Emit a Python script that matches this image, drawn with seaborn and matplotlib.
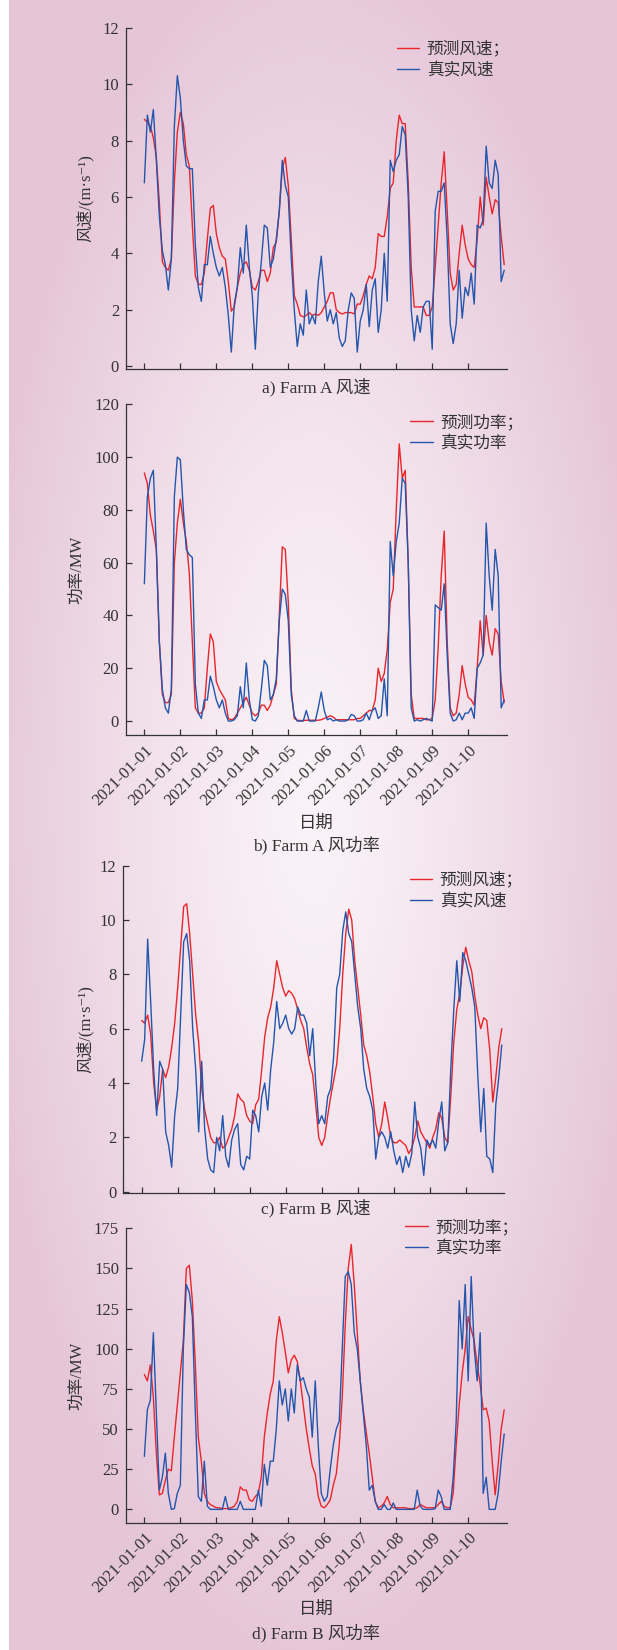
import numpy as np
import pandas as pd
import matplotlib
matplotlib.use("Agg")
import matplotlib.pyplot as plt
import matplotlib.dates as mdates
import seaborn as sns

# ---------------- data (2-hour samples, 2021-01-01 00:00 .. 2021-01-11 00:00) ----------------
start_date = "2021-01-01"
n_points = 121
tick_dates = ["2021-01-01", "2021-01-02", "2021-01-03", "2021-01-04", "2021-01-05",
              "2021-01-06", "2021-01-07", "2021-01-08", "2021-01-09", "2021-01-10"]

a_speed_pred = [
    8.75, 8.65, 8.5, 8.1, 7.4, 5.8, 3.7, 3.5, 3.4, 3.8, 6.5, 8.3,
    9.0, 8.6, 7.5, 7.1, 5.0, 3.2, 2.9, 2.9, 3.3, 4.5, 5.6, 5.7,
    4.7, 4.2, 3.9, 3.8, 3.0, 1.95, 2.1, 2.8, 3.3, 3.6, 3.7, 3.4,
    2.8, 2.7, 3.0, 3.4, 3.4, 3.0, 3.3, 4.2, 4.4, 5.5, 7.0, 7.4,
    6.4, 4.5, 2.5, 2.2, 1.8, 1.75, 1.8, 1.9, 1.8, 1.85, 1.8, 1.9,
    2.1, 2.3, 2.6, 2.6, 2.0, 1.9, 1.85, 1.9, 1.9, 1.9, 1.85, 2.2,
    2.2, 2.5, 2.9, 3.2, 3.1, 3.5, 4.7, 4.6, 4.6, 5.3, 6.3, 6.5,
    8.0, 8.9, 8.6, 8.6, 6.5, 3.5, 2.1, 2.1, 2.1, 2.1, 1.8, 1.8,
    2.1, 3.5, 5.0, 6.5, 7.6, 5.5, 3.3, 2.7, 2.9, 4.0, 5.0, 4.3,
    3.8, 3.6, 3.5, 4.5, 6.0, 5.0, 6.7, 6.0, 5.4, 5.9, 5.8, 4.6, 3.6]

a_speed_true = [
    6.5, 8.9, 8.3, 9.1, 7.3, 5.3, 4.1, 3.6, 2.7, 3.8, 8.5, 10.3,
    9.5, 8.0, 7.1, 7.0, 7.0, 4.3, 2.8, 2.3, 3.6, 3.6, 4.6, 4.0,
    3.5, 3.2, 3.5, 2.8, 1.8, 0.5, 2.2, 2.8, 4.2, 3.3, 5.0, 3.5,
    2.5, 0.6, 2.6, 3.7, 5.0, 4.9, 3.5, 3.8, 4.5, 5.5, 7.3, 6.4,
    6.0, 3.8, 2.0, 0.7, 1.5, 1.1, 2.7, 1.5, 1.8, 1.5, 3.0, 3.9,
    2.6, 1.6, 2.0, 1.5, 1.9, 1.0, 0.7, 0.9, 2.0, 2.6, 2.4, 0.5,
    1.6, 2.0, 2.9, 1.4, 2.7, 3.1, 1.2, 2.0, 4.0, 2.3, 7.3, 6.9,
    7.3, 7.5, 8.5, 8.2, 6.0, 2.0, 0.9, 1.8, 1.2, 2.1, 2.3, 2.3,
    0.6, 5.5, 6.2, 6.2, 6.5, 4.5, 1.5, 0.8, 1.5, 3.4, 1.7, 2.8,
    2.5, 3.3, 2.2, 5.0, 4.9, 5.2, 7.8, 6.5, 6.3, 7.3, 6.8, 3.0, 3.4]

a_power_pred = [
    94, 90, 78, 72, 65, 30, 10, 7, 7, 10, 60, 75,
    84, 75, 68, 56, 30, 5, 3, 3, 5, 20, 33, 30,
    15, 12, 10, 8, 1, 0.5, 1, 3, 5, 7, 9, 6,
    3, 2, 3, 6, 6, 4, 6, 10, 14, 40, 66, 65,
    45, 12, 1, 0.3, 0.2, 0.2, 0.3, 0.3, 0.3, 0.3, 0.3, 0.5,
    1, 1.5, 2, 1.5, 0.5, 0.5, 0.5, 0.5, 0.5, 0.5, 0.5, 1,
    1, 2, 3, 4, 4, 8, 20, 15, 18, 27, 45, 50,
    80, 105, 92, 95, 60, 10, 1, 1, 1, 1, 0.5, 0.5,
    1, 8, 28, 55, 72, 30, 5, 2, 3, 10, 21, 14,
    9, 8, 6, 20, 38, 25, 40, 30, 25, 35, 33, 15, 7]

a_power_true = [
    52, 85, 92, 95, 65, 30, 12, 5, 3, 12, 85, 100,
    99, 80, 65, 63, 62, 14, 3, 1, 8, 8, 17, 13,
    8, 5, 8, 3, 0, 0, 0.5, 2, 13, 5, 22, 8,
    0.5, 0, 2, 12, 23, 21, 8, 10, 16, 38, 50, 48,
    38, 10, 2, 0, 0, 0, 4, 0, 0, 0, 5, 11,
    4, 0.5, 1, 0, 0.5, 0, 0, 0, 0.5, 2.5, 2, 0,
    0, 0.5, 3, 0.5, 4, 5, 1, 2, 16, 2, 68, 55,
    68, 75, 92, 90, 60, 5, 0, 0.5, 0, 0.5, 1, 0.5,
    0, 44, 43, 42, 52, 25, 3, 0, 0.5, 3, 0.5, 3,
    3, 5, 1, 20, 22, 25, 75, 55, 42, 65, 55, 5, 8]

b_speed_pred = [
    6.3, 6.2, 6.5, 5.8, 4.0, 3.0, 3.5, 4.5, 4.2, 4.6, 5.3, 6.2,
    7.5, 9.0, 10.5, 10.6, 9.5, 8.0, 6.5, 5.5, 3.8, 3.0, 2.5, 2.0,
    1.8, 1.8, 2.0, 1.6, 1.7, 2.0, 2.3, 2.8, 3.6, 3.4, 3.3, 2.8,
    2.6, 2.5, 3.2, 3.4, 4.5, 5.7, 6.4, 6.8, 7.5, 8.5, 8.0, 7.5,
    7.2, 7.4, 7.3, 7.1, 6.7, 6.3, 6.0, 5.3, 4.7, 4.3, 3.2, 2.0,
    1.7, 2.0, 2.8, 3.5, 4.1, 4.7, 6.0, 8.0, 9.5, 10.4, 10.0, 8.5,
    7.5, 6.5, 5.4, 5.0, 4.4, 3.5, 2.5, 2.0, 2.5, 3.3, 2.7, 2.0,
    1.8, 1.8, 1.9, 1.8, 1.7, 1.4, 1.6, 2.0, 2.6, 2.2, 2.0, 1.8,
    1.6, 2.0, 2.3, 2.9, 2.7, 2.0, 1.8, 3.5, 5.5, 6.7, 7.3, 8.3,
    9.0, 8.5, 8.1, 7.2, 6.5, 6.0, 6.4, 6.3, 5.2, 3.3, 4.2, 5.3, 6.0]

b_speed_true = [
    4.8, 5.6, 9.3, 7.0, 4.5, 2.8, 4.8, 4.5, 2.2, 1.7, 0.9, 2.8,
    3.8, 6.5, 9.2, 9.5, 8.5, 6.0, 4.5, 2.2, 4.8, 2.3, 1.2, 0.8,
    0.7, 2.0, 1.5, 2.8, 1.3, 0.9, 1.9, 2.3, 2.5, 1.0, 0.8, 1.3,
    1.2, 3.0, 2.8, 2.2, 3.5, 4.0, 3.0, 4.5, 5.5, 7.0, 6.0, 6.2,
    6.5, 6.0, 5.8, 6.0, 6.8, 6.5, 6.5, 6.2, 5.0, 6.0, 4.0, 2.5,
    2.8, 2.5, 3.5, 3.8, 5.0, 7.5, 8.0, 9.6, 10.3, 9.5, 9.2, 8.0,
    6.8, 6.0, 4.5, 3.8, 3.5, 3.0, 1.2, 2.0, 2.2, 2.0, 1.6, 2.2,
    1.5, 1.0, 1.3, 0.7, 1.3, 0.9, 1.4, 3.3, 2.0, 1.6, 0.6, 1.9,
    1.7, 1.9, 1.6, 2.6, 3.3, 1.5, 1.8, 4.5, 6.7, 8.5, 7.0, 8.8,
    8.5, 8.0, 7.5, 6.8, 4.3, 2.2, 3.8, 1.3, 1.2, 0.7, 3.2, 4.2, 5.4]

b_power_pred = [
    84, 80, 90, 70, 35, 9, 10, 18, 25, 24, 45, 65,
    85, 105, 150, 152, 130, 90, 45, 30, 10, 5, 3, 2,
    1, 1, 0.5, 0.5, 0.5, 1, 2, 5, 14, 12, 12, 6,
    5, 8, 10, 20, 45, 60, 72, 80, 105, 120, 110, 98,
    85, 93, 96, 92, 80, 65, 50, 38, 27, 22, 8, 2,
    1, 3, 6, 15, 22, 40, 70, 115, 150, 165, 140, 110,
    80, 62, 48, 35, 20, 5, 1, 2, 4, 8, 3, 1,
    1, 1, 1, 1, 0.5, 0.5, 0.5, 1, 3, 2, 1, 1,
    1, 1, 3, 5, 2, 1, 1, 10, 40, 65, 85, 100,
    120, 112, 105, 90, 78, 62, 63, 55, 30, 9, 28, 50, 62]

b_power_true = [
    33, 62, 68, 110, 60, 12, 20, 35, 10, 0, 0.5, 10,
    15, 100, 140, 135, 120, 60, 8, 5, 30, 2, 0, 0,
    0, 0, 0, 8, 0, 0, 0, 0, 5, 0, 0, 0,
    0, 0, 12, 2, 28, 15, 30, 30, 50, 80, 65, 75,
    55, 75, 60, 90, 80, 82, 75, 70, 45, 80, 40, 10,
    5, 8, 25, 40, 50, 55, 100, 145, 148, 140, 110, 100,
    80, 60, 40, 12, 15, 5, 0, 0, 3, 0, 0, 4,
    0, 0, 0, 0, 0, 0, 0, 12, 2, 0, 0, 0,
    0, 0.5, 12, 8, 0, 0, 0, 20, 55, 130, 100, 140,
    80, 145, 100, 80, 110, 10, 20, 0, 0, 0, 10, 30, 47]

panels = [
    dict(pred=a_speed_pred, true=a_speed_true, labels=("预测风速；", "真实风速"),
         ylabel="风速/(m·s⁻¹)", yticks=list(range(0, 13, 2)), ylim=(-0.1, 12),
         caption="a) Farm A 风速", dates=False),
    dict(pred=a_power_pred, true=a_power_true, labels=("预测功率；", "真实功率"),
         ylabel="功率/MW", yticks=list(range(0, 121, 20)), ylim=(-5.4, 120),
         caption="b) Farm A 风功率", dates=True),
    dict(pred=b_speed_pred, true=b_speed_true, labels=("预测风速；", "真实风速"),
         ylabel="风速/(m·s⁻¹)", yticks=list(range(0, 13, 2)), ylim=(-0.04, 12),
         caption="c) Farm B 风速", dates=False),
    dict(pred=b_power_pred, true=b_power_true, labels=("预测功率；", "真实功率"),
         ylabel="功率/MW", yticks=list(range(0, 176, 25)), ylim=(-8.3, 175),
         caption="d) Farm B 风功率", dates=True),
]

# ---------------- layout (pixel-based) ----------------
W, H = 617, 1650
# left, right, top, bottom pixel positions of each axes
boxes = [(126, 506.7, 27.7, 369.0),
         (126, 506.7, 404.3, 735.3),
         (123.3, 504.3, 865.7, 1192.7),
         (126, 506.7, 1228.3, 1522.7)]
legend_anchor = [(0.711, 0.961), (0.746, 0.970), (0.752, 0.981), (0.733, 1.031)]
ylabel_x = [-0.086, -0.108, -0.079, -0.108]
caption_y = [386.7, 845.0, 1208.3, 1632.7]
xlabel_y = [None, 823.3, None, 1610.0]

RED = "#e8262c"
BLUE = "#2456ac"
TXT = "#333333"

sns.set_theme(style="ticks")
plt.rcParams["font.family"] = ["Liberation Serif", "Noto Sans CJK SC", "DejaVu Sans"]
plt.rcParams["axes.unicode_minus"] = False

fig = plt.figure(figsize=(W / 100, H / 100), dpi=100)

# background radial gradient
bg = fig.add_axes([0, 0, 1, 1], zorder=-10)
bg.axis("off")
yy, xx = np.mgrid[0:H, 0:W]
r = np.sqrt(((xx - 312) / 340.0) ** 2 + ((yy - 800) / 880.0) ** 2)
t = np.clip(r, 0, 1) ** 1.3
c0 = np.array([250, 243, 247]) / 255.0
c1 = np.array([229, 197, 216]) / 255.0
img = c0[None, None, :] + (c1 - c0)[None, None, :] * t[..., None]
img[:, :9] = 1.0
bg.imshow(img, extent=[0, 1, 0, 1], aspect="auto", origin="upper", interpolation="bilinear")
bg.set_xlim(0, 1)
bg.set_ylim(0, 1)

times = pd.date_range(start_date, periods=n_points, freq="2h")
t0 = pd.Timestamp(start_date)
xlim = (mdates.date2num(t0 - pd.Timedelta(days=0.51)), mdates.date2num(t0 + pd.Timedelta(days=10.07)))

for i, p in enumerate(panels):
    l, rr, tp, bt = boxes[i]
    ax = fig.add_axes([l / W, 1 - bt / H, (rr - l) / W, (bt - tp) / H])
    ax.set_facecolor("none")
    df = pd.DataFrame({"time": times, "pred": p["pred"], "true": p["true"]})
    sns.lineplot(data=df, x="time", y="pred", ax=ax, color=RED, lw=1.0, label=p["labels"][0])
    sns.lineplot(data=df, x="time", y="true", ax=ax, color=BLUE, lw=1.0, label=p["labels"][1])
    ax.set_xlim(*xlim)
    ax.set_ylim(*p["ylim"])
    ax.set_yticks(p["yticks"])
    ax.set_xticks([mdates.date2num(pd.Timestamp(d)) for d in tick_dates])
    for s in ("top", "right"):
        ax.spines[s].set_visible(False)
    for s in ("left", "bottom"):
        ax.spines[s].set_color("#333333")
        ax.spines[s].set_linewidth(0.9)
    ax.tick_params(axis="both", direction="in", length=4, width=0.9, colors="#333333",
                   labelsize=12, labelcolor=TXT)
    ax.tick_params(axis="y", pad=5)
    if p["dates"]:
        ax.set_xticklabels(tick_dates)
        for lab in ax.get_xticklabels():
            lab.set_rotation(45)
            lab.set_ha("right")
            lab.set_va("top")
            lab.set_rotation_mode("anchor")
        ax.tick_params(axis="x", pad=5)
    else:
        ax.set_xticklabels([])
    ax.set_xlabel("")
    ax.set_ylabel(p["ylabel"], fontsize=12, color=TXT)
    ax.yaxis.set_label_coords(ylabel_x[i], 0.5)
    leg = ax.legend(loc="upper left", bbox_to_anchor=legend_anchor[i], frameon=False,
                    fontsize=12, handlelength=1.35, handletextpad=0.45, labelspacing=0.3,
                    borderpad=0, borderaxespad=0)
    for txt in leg.get_texts():
        txt.set_color(TXT)
    fig.text(316 / W, 1 - caption_y[i] / H, p["caption"], ha="center", va="center",
             fontsize=12.5, color=TXT)
    if xlabel_y[i] is not None:
        fig.text(316 / W, 1 - xlabel_y[i] / H, "日期", ha="center", va="center",
                 fontsize=12.5, color=TXT)

fig.savefig("out.png", dpi=100)
